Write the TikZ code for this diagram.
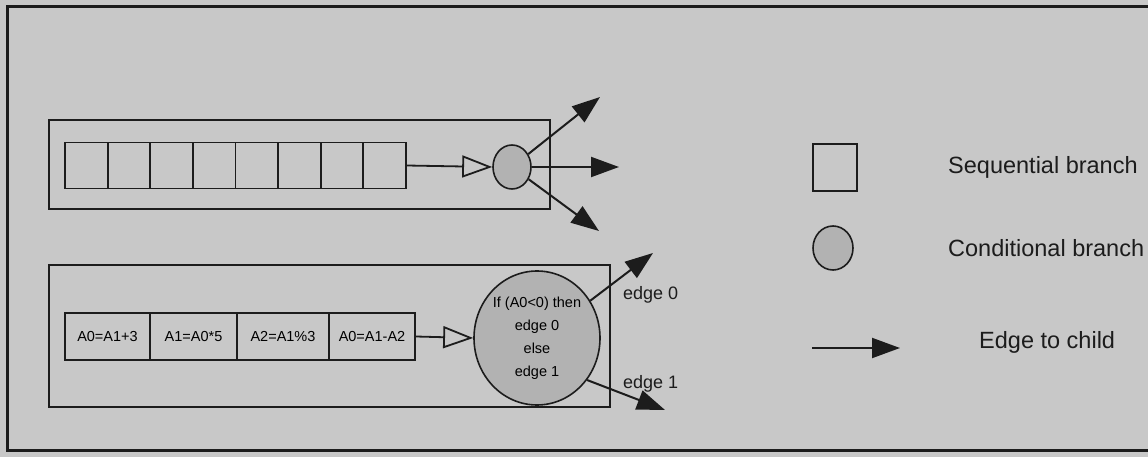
\documentclass[tikz,border=0pt]{standalone}
\usepackage{fontspec}
\setmainfont{Liberation Sans}
\usetikzlibrary{arrows.meta,shapes.geometric}
\definecolor{paper}{HTML}{C8C8C8}
\definecolor{ink}{HTML}{1C1C1C}
\definecolor{condfill}{HTML}{B2B2B2}
\begin{document}
\begin{tikzpicture}[x=1pt,y=-1pt,
  frame/.style={draw=ink,line width=3pt},
  groupbox/.style={draw=ink,line width=2.6pt,minimum width=#1},
  cellbox/.style={draw=ink,line width=1.8pt,inner sep=0pt,minimum height=46pt,font=\fontsize{14.5}{16}\selectfont},
  condnode/.style={ellipse,draw=ink,line width=1.6pt,fill=condfill,inner sep=0pt},
  seqarrow/.style={draw=ink,line width=1.8pt,-{Triangle[open,length=30pt,width=22pt,line width=1.8pt,fill=paper]}},
  edgearrow/.style={draw=ink,line width=2pt,-{Triangle[length=28pt,width=20pt]}},
  edgelabel/.style={anchor=west,inner sep=0pt,font=\fontsize{18}{20}\selectfont,text=ink},
  legendlabel/.style={anchor=west,inner sep=0pt,font=\fontsize{23.5}{26}\selectfont,text=ink}
]
\fill[paper] (0,0) rectangle (1148,457);
\useasboundingbox (0,0) rectangle (1148,457);
\clip (0,0) rectangle (1148,457);

% outer frame (right side lies beyond the page)
\draw[frame] (1160,7) -- (7,7) -- (7,450) -- (1160,450);

% ---- top group: sequential cells + conditional node
\node[groupbox=501pt,minimum height=89pt] (topbox) at (299.5,164.5) {};
\node[cellbox,minimum width=42.6pt] (t1) at (86.3,165.5) {};
\node[cellbox,minimum width=42.6pt] (t2) at (128.9,165.5) {};
\node[cellbox,minimum width=42.6pt] (t3) at (171.5,165.5) {};
\node[cellbox,minimum width=42.6pt] (t4) at (214.1,165.5) {};
\node[cellbox,minimum width=42.6pt] (t5) at (256.7,165.5) {};
\node[cellbox,minimum width=42.6pt] (t6) at (299.3,165.5) {};
\node[cellbox,minimum width=42.6pt] (t7) at (341.9,165.5) {};
\node[cellbox,minimum width=42.6pt] (t8) at (384.5,165.5) {};
\node[condnode,minimum width=38pt,minimum height=44pt] (c1) at (512,167) {};
\draw[seqarrow] (t8.east) -- (c1.west);
\coordinate (u1) at (600,97);
\coordinate (m1) at (619,167);
\coordinate (d1) at (599,231);
\draw[edgearrow] (c1) -- (u1);
\draw[edgearrow] (c1.east) -- (m1);
\draw[edgearrow] (c1) -- (d1);

% ---- bottom group: statement cells + conditional node
\node[groupbox=561pt,minimum height=142pt] (botbox) at (329.5,336) {};
\node[cellbox,minimum width=85pt,minimum height=47pt] (b1) at (107.5,336.5) {A0=A1+3};
\node[cellbox,minimum width=87pt,minimum height=47pt] (b2) at (193.5,336.5) {A1=A0*5};
\node[cellbox,minimum width=92pt,minimum height=47pt] (b3) at (283,336.5) {A2=A1\%3};
\node[cellbox,minimum width=86pt,minimum height=47pt] (b4) at (372,336.5) {A0=A1-A2};
\node[condnode,minimum width=126pt,minimum height=134pt,align=center,
      font=\fontsize{14.5}{23}\selectfont] (c2) at (537,338)
      {If (A0<0) then\\edge 0\\else\\edge 1};
\draw[seqarrow] (b4.east) -- (c2.west);
\coordinate (u2) at (653,253);
\coordinate (d2) at (665,410);
\draw[edgearrow] (c2.35) -- (u2);
\draw[edgearrow] (c2.-40) -- (d2);
\node[edgelabel] (e0) at (623,295) {edge 0};
\node[edgelabel] (e1) at (623,384) {edge 1};

% ---- legend
\node[draw=ink,line width=1.6pt,minimum width=44pt,minimum height=47pt,inner sep=0pt] (lsq) at (835,167.5) {};
\node[legendlabel] (lsqt) at (948,167) {Sequential branch};
\node[condnode,minimum width=40pt,minimum height=44pt] (lc) at (833,248) {};
\node[legendlabel] (lct) at (948,248) {Conditional branch};
\coordinate (la1) at (812,348);
\coordinate (la2) at (900,348);
\draw[edgearrow] (la1) -- (la2);
\node[legendlabel] (lat) at (979,342) {Edge to child};
\end{tikzpicture}
\end{document}
